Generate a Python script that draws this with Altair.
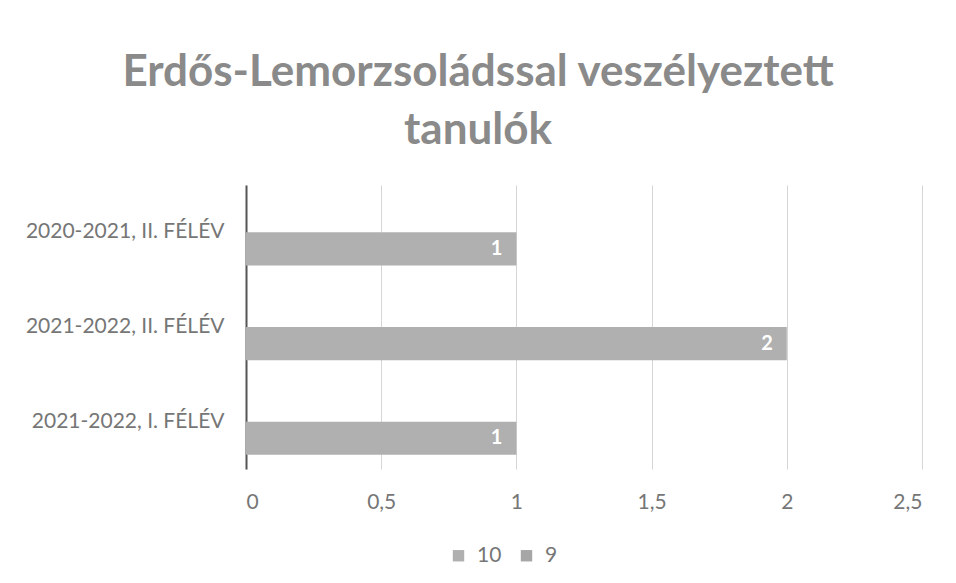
import altair as alt
import pandas as pd

categories = ["2020-2021, II. FÉLÉV", "2021-2022, II. FÉLÉV", "2021-2022, I. FÉLÉV"]
series_names = ["10", "9"]
values_10 = [1, 2, 1]
values_9 = [None, None, None]
x_ticks = [0, 0.5, 1, 1.5, 2, 2.5]

rows = []
for c, v in zip(categories, values_10):
    rows.append({"cat": c, "series": "10", "value": v})
for c, v in zip(categories, values_9):
    rows.append({"cat": c, "series": "9", "value": v})
df = pd.DataFrame(rows)

FONT = "Lato"
TEXT = "#767676"
BAR = "#b0b0b0"

y_enc = alt.Y("cat:N", sort=categories, title=None,
              scale=alt.Scale(paddingInner=0.3, paddingOuter=0.15),
              axis=alt.Axis(labelFont=FONT, labelFontSize=21, labelColor=TEXT,
                            labelPadding=22, labelLimit=400, ticks=False,
                            domainColor="#555555", domainWidth=2, grid=False))
x_enc = alt.X("value:Q", title=None,
              scale=alt.Scale(domain=[0, 2.5], nice=False),
              axis=alt.Axis(values=x_ticks, labelFont=FONT, labelFontSize=21,
                            labelColor=TEXT, labelPadding=22, ticks=False,
                            domain=False, grid=True, gridColor="#d6d6d6",
                            labelExpr="replace(toString(datum.value), '.', ',')"))
yoff = alt.YOffset("series:N", scale=alt.Scale(domain=["9", "10"], paddingInner=0, paddingOuter=0))

bars = alt.Chart(df).mark_bar(opacity=1).encode(
    y=y_enc, x=x_enc, yOffset=yoff,
    color=alt.Color("series:N", sort=series_names,
                    scale=alt.Scale(domain=series_names, range=[BAR, "#a6a6a6"]),
                    legend=alt.Legend(title=None, orient="none", direction="horizontal",
                                      legendX=202, legendY=360, labelFont=FONT,
                                      labelFontSize=21, labelColor=TEXT,
                                      symbolType="square", symbolSize=130,
                                      symbolStrokeWidth=0, columnPadding=14,
                                      labelOffset=8, padding=0)),
)

labels = alt.Chart(df).mark_text(align="right", baseline="middle", dx=-14,
                                 font=FONT, fontSize=20, fontWeight="bold",
                                 color="white").encode(
    y=alt.Y("cat:N", sort=categories),
    x="value:Q",
    yOffset=yoff,
    text=alt.Text("value:Q", format="d"),
)

chart = alt.layer(bars, labels).properties(
    width=676, height=284,
    background="white",
    title=alt.TitleParams(["Erdős-Lemorzsoládssal veszélyeztett", "tanulók"],
                          font=FONT, fontSize=44, fontWeight="bold", color="#8a8a8a",
                          anchor="middle", dx=-106, offset=32, lineHeight=58),
    autosize=alt.AutoSizeParams(type="none"),
    padding={"left": 238, "top": 177, "right": 26, "bottom": 106},
).configure_view(stroke=None)

chart.save("out.html", embed_options={"renderer": "svg", "actions": False})
